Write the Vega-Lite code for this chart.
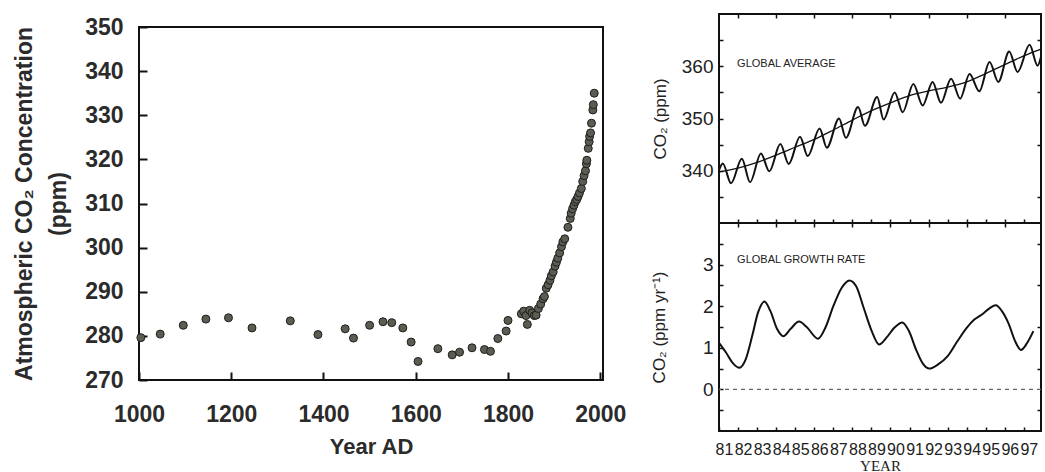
{
  "$schema": "https://vega.github.io/schema/vega-lite/v6.json",
  "padding": {"left": 12, "top": 12, "right": 0, "bottom": 0},
  "background": "white",
  "config": {
    "view": {"stroke": "#111", "strokeWidth": 2},
    "axis": {"grid": false, "domain": false, "labelFlush": false, "labelOverlap": false, "tickColor": "#111"}
  },
  "datasets": {
    "ice": [
      {"year": 1004, "co2": 279.6}, {"year": 1046, "co2": 280.4}, {"year": 1096, "co2": 282.4}, {"year": 1145, "co2": 283.8},
      {"year": 1194, "co2": 284.1}, {"year": 1245, "co2": 281.8}, {"year": 1328, "co2": 283.4}, {"year": 1388, "co2": 280.3},
      {"year": 1447, "co2": 281.6}, {"year": 1465, "co2": 279.5}, {"year": 1500, "co2": 282.4}, {"year": 1529, "co2": 283.2},
      {"year": 1548, "co2": 283.0}, {"year": 1572, "co2": 281.8}, {"year": 1590, "co2": 278.6}, {"year": 1605, "co2": 274.2},
      {"year": 1648, "co2": 277.1}, {"year": 1679, "co2": 275.7}, {"year": 1695, "co2": 276.3}, {"year": 1722, "co2": 277.3},
      {"year": 1749, "co2": 276.9}, {"year": 1762, "co2": 276.5}, {"year": 1778, "co2": 279.4}, {"year": 1796, "co2": 281.1},
      {"year": 1800, "co2": 283.5}, {"year": 1829, "co2": 285.0}, {"year": 1834, "co2": 285.6}, {"year": 1839, "co2": 284.6},
      {"year": 1842, "co2": 282.6}, {"year": 1847, "co2": 285.8}, {"year": 1852, "co2": 285.2}, {"year": 1857, "co2": 284.6},
      {"year": 1861, "co2": 284.7}, {"year": 1866, "co2": 286.2}, {"year": 1871, "co2": 287.2}, {"year": 1876, "co2": 288.4},
      {"year": 1879, "co2": 288.9}, {"year": 1883, "co2": 290.8}, {"year": 1887, "co2": 291.6}, {"year": 1891, "co2": 292.6},
      {"year": 1894, "co2": 293.6}, {"year": 1898, "co2": 294.5}, {"year": 1902, "co2": 295.8}, {"year": 1905, "co2": 296.7},
      {"year": 1908, "co2": 297.6}, {"year": 1912, "co2": 298.8}, {"year": 1916, "co2": 300.2}, {"year": 1919, "co2": 301.3},
      {"year": 1923, "co2": 302.0}, {"year": 1930, "co2": 304.6}, {"year": 1935, "co2": 306.6}, {"year": 1937, "co2": 307.8},
      {"year": 1940, "co2": 308.8}, {"year": 1943, "co2": 309.6}, {"year": 1946, "co2": 310.4}, {"year": 1949, "co2": 310.9},
      {"year": 1952, "co2": 311.6}, {"year": 1955, "co2": 312.4}, {"year": 1959, "co2": 313.4}, {"year": 1962, "co2": 315.0},
      {"year": 1965, "co2": 316.3}, {"year": 1968, "co2": 317.4}, {"year": 1970, "co2": 319.0}, {"year": 1971, "co2": 319.8},
      {"year": 1974, "co2": 322.5}, {"year": 1976, "co2": 324.0}, {"year": 1977, "co2": 325.2}, {"year": 1979, "co2": 326.0},
      {"year": 1981, "co2": 328.2}, {"year": 1984, "co2": 331.2}, {"year": 1985, "co2": 332.4}, {"year": 1987, "co2": 335.0}
    ],
    "seasonal": [
      {"t": 1981.0, "co2": 340.1}, {"t": 1981.2, "co2": 341.4}, {"t": 1981.63, "co2": 337.6},
      {"t": 1982.2, "co2": 342.3}, {"t": 1982.63, "co2": 337.8},
      {"t": 1983.2, "co2": 343.3}, {"t": 1983.64, "co2": 339.9},
      {"t": 1984.22, "co2": 345.1}, {"t": 1984.66, "co2": 341.3},
      {"t": 1985.25, "co2": 346.5}, {"t": 1985.66, "co2": 342.8},
      {"t": 1986.28, "co2": 348.1}, {"t": 1986.66, "co2": 344.4},
      {"t": 1987.3, "co2": 350.0}, {"t": 1987.66, "co2": 346.3},
      {"t": 1988.3, "co2": 352.2}, {"t": 1988.66, "co2": 348.6},
      {"t": 1989.3, "co2": 354.1}, {"t": 1989.64, "co2": 349.8},
      {"t": 1990.22, "co2": 355.0}, {"t": 1990.64, "co2": 351.2},
      {"t": 1991.2, "co2": 356.6}, {"t": 1991.69, "co2": 352.5},
      {"t": 1992.21, "co2": 357.0}, {"t": 1992.65, "co2": 353.0},
      {"t": 1993.18, "co2": 357.6}, {"t": 1993.66, "co2": 353.8},
      {"t": 1994.15, "co2": 358.5}, {"t": 1994.66, "co2": 355.2},
      {"t": 1995.2, "co2": 360.8}, {"t": 1995.66, "co2": 357.0},
      {"t": 1996.23, "co2": 362.8}, {"t": 1996.67, "co2": 358.9},
      {"t": 1997.3, "co2": 364.1}, {"t": 1997.72, "co2": 360.1}, {"t": 1997.9, "co2": 361.8}
    ],
    "trend": [
      {"t": 1981.0, "co2": 339.8}, {"t": 1982, "co2": 340.5}, {"t": 1983, "co2": 341.6}, {"t": 1984, "co2": 343.0},
      {"t": 1985, "co2": 344.5}, {"t": 1986, "co2": 346.0}, {"t": 1987, "co2": 347.8}, {"t": 1988, "co2": 349.7},
      {"t": 1989, "co2": 351.5}, {"t": 1990, "co2": 353.0}, {"t": 1991, "co2": 354.4}, {"t": 1992, "co2": 355.3},
      {"t": 1993, "co2": 356.0}, {"t": 1994, "co2": 357.0}, {"t": 1995, "co2": 358.6}, {"t": 1996, "co2": 360.3},
      {"t": 1997, "co2": 362.0}, {"t": 1997.9, "co2": 363.3}
    ],
    "growth": [
      {"t": 1981.0, "rate": 1.12}, {"t": 1981.35, "rate": 0.9}, {"t": 1981.75, "rate": 0.62}, {"t": 1982.07, "rate": 0.52},
      {"t": 1982.4, "rate": 0.72}, {"t": 1982.75, "rate": 1.3}, {"t": 1983.05, "rate": 1.85}, {"t": 1983.38, "rate": 2.11},
      {"t": 1983.7, "rate": 1.88}, {"t": 1984.05, "rate": 1.45}, {"t": 1984.38, "rate": 1.28}, {"t": 1984.75, "rate": 1.45},
      {"t": 1985.2, "rate": 1.63}, {"t": 1985.6, "rate": 1.5}, {"t": 1986.2, "rate": 1.22}, {"t": 1986.6, "rate": 1.5},
      {"t": 1987.0, "rate": 2.0}, {"t": 1987.45, "rate": 2.45}, {"t": 1987.84, "rate": 2.62}, {"t": 1988.2, "rate": 2.48},
      {"t": 1988.6, "rate": 1.95}, {"t": 1989.0, "rate": 1.42}, {"t": 1989.4, "rate": 1.08}, {"t": 1989.8, "rate": 1.25},
      {"t": 1990.2, "rate": 1.48}, {"t": 1990.62, "rate": 1.61}, {"t": 1990.95, "rate": 1.42}, {"t": 1991.35, "rate": 0.95},
      {"t": 1991.7, "rate": 0.62}, {"t": 1992.04, "rate": 0.5}, {"t": 1992.5, "rate": 0.6}, {"t": 1993.0, "rate": 0.8},
      {"t": 1993.5, "rate": 1.15}, {"t": 1994.0, "rate": 1.48}, {"t": 1994.4, "rate": 1.68}, {"t": 1994.8, "rate": 1.8},
      {"t": 1995.2, "rate": 1.95}, {"t": 1995.53, "rate": 2.02}, {"t": 1995.85, "rate": 1.88}, {"t": 1996.2, "rate": 1.58},
      {"t": 1996.55, "rate": 1.15}, {"t": 1996.85, "rate": 0.95}, {"t": 1997.15, "rate": 1.1}, {"t": 1997.5, "rate": 1.4}
    ]
  },
  "bounds": "flush",
  "spacing": 580,
  "hconcat": [
    {
      "bounds": "flush",
      "spacing": 0,
      "vconcat": [
        {
          "width": 464, "height": 13,
          "view": {"stroke": null},
          "data": {"values": []},
          "mark": "point"
        },
        {
          "width": 464, "height": 353,
          "data": {"name": "ice"},
          "mark": {"type": "circle", "size": 64, "filled": true, "fill": "#5c5c52", "stroke": "#1e1e1e", "strokeWidth": 1, "opacity": 1},
          "encoding": {
            "x": {
              "field": "year", "type": "quantitative",
              "scale": {"domain": [1000, 2006], "nice": false, "zero": false},
              "axis": {
                "values": [1000, 1200, 1400, 1600, 1800, 2000], "format": "d", "title": "Year AD",
                "tickSize": -8, "tickWidth": 2, "labelOverlap": false,
                "labelFont": "Liberation Sans", "labelFontWeight": "bold", "labelFontSize": 23, "labelColor": "#2b2b2b", "labelPadding": 31,
                "titleFont": "Liberation Sans", "titleFontWeight": "bold", "titleFontSize": 22, "titleColor": "#2b2b2b", "titlePadding": 10
              }
            },
            "y": {
              "field": "co2", "type": "quantitative",
              "scale": {"domain": [270, 350], "nice": false, "zero": false},
              "axis": {
                "values": [270, 280, 290, 300, 310, 320, 330, 340, 350], "title": ["Atmospheric CO₂ Concentration", "(ppm)"],
                "tickSize": -8, "tickWidth": 2, "labelOverlap": false,
                "labelFont": "Liberation Sans", "labelFontWeight": "bold", "labelFontSize": 23, "labelColor": "#2b2b2b", "labelPadding": 24,
                "titleFont": "Liberation Sans", "titleFontWeight": "bold", "titleFontSize": 23, "titleColor": "#2b2b2b", "titlePadding": 14, "titleLineHeight": 34
              }
            }
          }
        }
      ]
    },
    {
      "bounds": "flush",
      "spacing": 0,
      "vconcat": [
        {
          "width": 322, "height": 209,
          "view": {"stroke": "#111", "strokeWidth": 2},
          "resolve": {"scale": {"x": "independent", "y": "independent"}},
          "layer": [
            {
              "data": {"name": "seasonal"},
              "mark": {"type": "line", "interpolate": "monotone", "color": "#111", "strokeWidth": 2},
              "encoding": {
                "x": {
                  "field": "t", "type": "quantitative",
                  "scale": {"domain": [1981, 1997.9], "nice": false, "zero": false},
                  "axis": {"orient": "bottom", "values": [1982, 1983, 1984, 1985, 1986, 1987, 1988, 1989, 1990, 1991, 1992, 1993, 1994, 1995, 1996, 1997], "labels": false, "title": null, "tickSize": -4, "tickWidth": 1.5}
                },
                "y": {
                  "field": "co2", "type": "quantitative",
                  "scale": {"domain": [330, 370], "nice": false, "zero": false},
                  "axis": {
                    "orient": "left", "values": [335, 340, 345, 350, 355, 360, 365], "labelOverlap": false,
                    "labelExpr": "datum.value % 10 === 0 ? datum.label : ''",
                    "title": "CO₂ (ppm)", "tickSize": -4, "tickWidth": 1.5,
                    "labelFont": "Liberation Sans", "labelFontSize": 19, "labelColor": "#222", "labelPadding": 10,
                    "titleFont": "Liberation Sans", "titleFontSize": 17, "titleFontWeight": "normal", "titleColor": "#222", "titlePadding": 12
                  }
                }
              }
            },
            {
              "layer": [
                {
                  "data": {"name": "trend"},
                  "mark": {"type": "line", "interpolate": "monotone", "color": "#111", "strokeWidth": 1.3},
                  "encoding": {
                    "x": {
                      "field": "t", "type": "quantitative",
                      "scale": {"domain": [1981, 1997.9], "nice": false, "zero": false},
                      "axis": {"orient": "top", "values": [1982, 1983, 1984, 1985, 1986, 1987, 1988, 1989, 1990, 1991, 1992, 1993, 1994, 1995, 1996, 1997], "labels": false, "title": null, "tickSize": -4, "tickWidth": 1.5}
                    },
                    "y": {
                      "field": "co2", "type": "quantitative",
                      "scale": {"domain": [330, 370], "nice": false, "zero": false},
                      "axis": {"orient": "right", "values": [335, 340, 345, 350, 355, 360, 365], "labels": false, "title": null, "tickSize": -4, "tickWidth": 1.5}
                    }
                  }
                },
                {
                  "data": {"values": [{}]},
                  "mark": {"type": "text", "text": "GLOBAL AVERAGE", "align": "left", "baseline": "middle", "font": "Liberation Sans", "fontSize": 11, "color": "#222"},
                  "encoding": {
                    "x": {"datum": 1981.95, "type": "quantitative"},
                    "y": {"datum": 360.5, "type": "quantitative"}
                  }
                }
              ]
            }
          ]
        },
        {
          "width": 322, "height": 208,
          "view": {"stroke": "#111", "strokeWidth": 2},
          "resolve": {"scale": {"x": "independent", "y": "independent"}},
          "layer": [
            {
              "data": {"name": "growth"},
              "mark": {"type": "line", "interpolate": "monotone", "color": "#111", "strokeWidth": 2},
              "encoding": {
                "x": {
                  "field": "t", "type": "quantitative",
                  "scale": {"domain": [1981, 1997.9], "nice": false, "zero": false},
                  "axis": {
                    "orient": "bottom", "values": [1981, 1982, 1983, 1984, 1985, 1986, 1987, 1988, 1989, 1990, 1991, 1992, 1993, 1994, 1995, 1996, 1997],
                    "format": "d", "labelExpr": "slice(datum.label, 2)", "labelOverlap": false,
                    "tickSize": -4, "tickWidth": 1.5,
                    "labelFont": "Liberation Sans", "labelFontSize": 16, "labelColor": "#222", "labelPadding": 14, "labelOffset": 5,
                    "title": "YEAR", "titleFont": "Liberation Serif", "titleFontSize": 15, "titleFontWeight": "normal", "titleColor": "#222", "titlePadding": 1
                  }
                },
                "y": {
                  "field": "rate", "type": "quantitative",
                  "scale": {"domain": [-1, 4], "nice": false, "zero": false},
                  "axis": {
                    "orient": "left", "values": [-0.5, 0, 0.5, 1, 1.5, 2, 2.5, 3, 3.5], "labelOverlap": false, "format": "~g",
                    "labelExpr": "datum.value % 1 === 0 ? datum.label : ''",
                    "title": "CO₂ (ppm yr⁻¹)", "tickSize": -4, "tickWidth": 1.5,
                    "labelFont": "Liberation Sans", "labelFontSize": 19, "labelColor": "#222", "labelPadding": 10,
                    "titleFont": "Liberation Sans", "titleFontSize": 17, "titleFontWeight": "normal", "titleColor": "#222", "titlePadding": 34
                  }
                }
              }
            },
            {
              "layer": [
                {
                  "data": {"name": "growth"},
                  "mark": {"type": "line", "interpolate": "monotone", "color": "#111", "strokeWidth": 2, "opacity": 0},
                  "encoding": {
                    "x": {
                      "field": "t", "type": "quantitative",
                      "scale": {"domain": [1981, 1997.9], "nice": false, "zero": false},
                      "axis": {"orient": "top", "values": [1982, 1983, 1984, 1985, 1986, 1987, 1988, 1989, 1990, 1991, 1992, 1993, 1994, 1995, 1996, 1997], "labels": false, "title": null, "tickSize": -4, "tickWidth": 1.5}
                    },
                    "y": {
                      "field": "rate", "type": "quantitative",
                      "scale": {"domain": [-1, 4], "nice": false, "zero": false},
                      "axis": {"orient": "right", "values": [-0.5, 0, 0.5, 1, 1.5, 2, 2.5, 3, 3.5], "labels": false, "title": null, "tickSize": -4, "tickWidth": 1.5}
                    }
                  }
                },
                {
                  "data": {"values": [{}]},
                  "mark": {"type": "rule", "strokeDash": [4, 4], "color": "#666", "strokeWidth": 1.2},
                  "encoding": {"y": {"datum": 0, "type": "quantitative"}}
                },
                {
                  "data": {"values": [{}]},
                  "mark": {"type": "text", "text": "GLOBAL GROWTH RATE", "align": "left", "baseline": "middle", "font": "Liberation Sans", "fontSize": 11, "color": "#222"},
                  "encoding": {
                    "x": {"datum": 1981.95, "type": "quantitative"},
                    "y": {"datum": 3.1, "type": "quantitative"}
                  }
                }
              ]
            }
          ]
        }
      ]
    }
  ]
}
